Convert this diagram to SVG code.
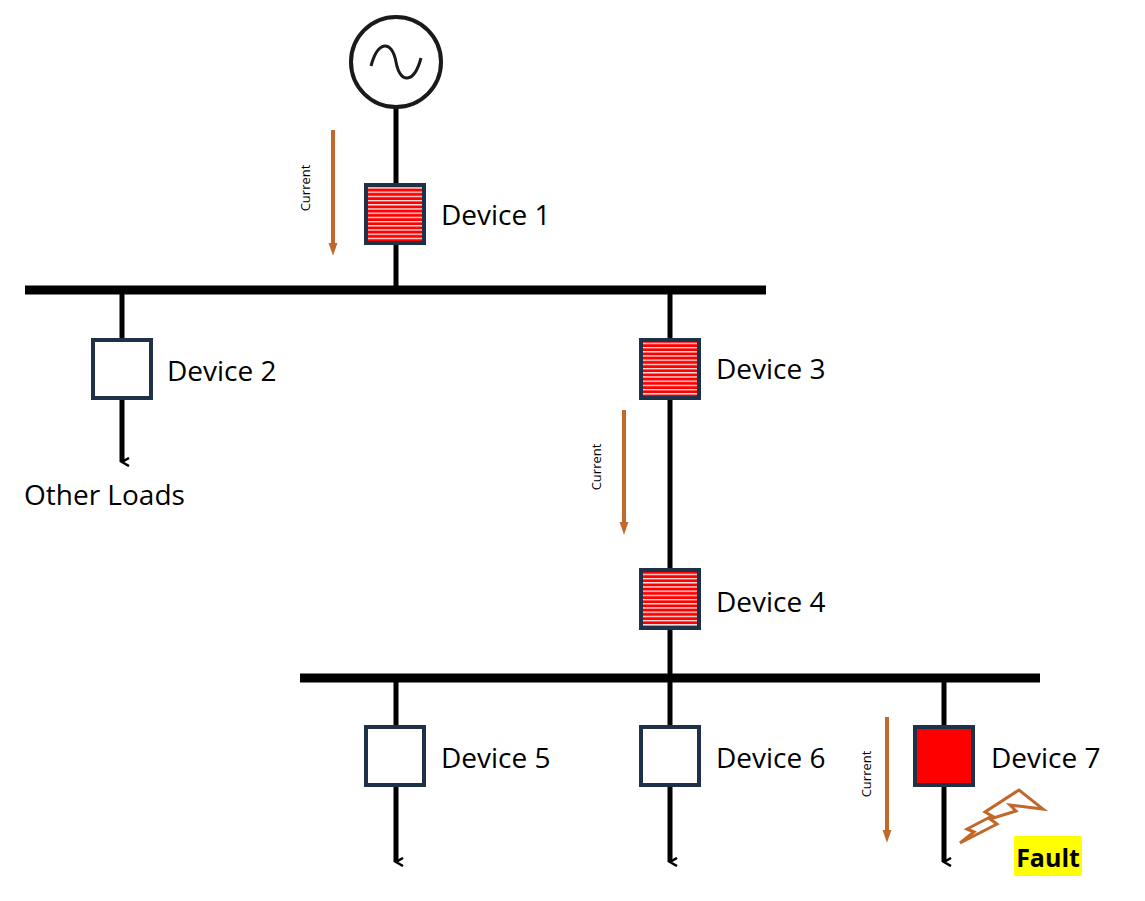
<svg xmlns="http://www.w3.org/2000/svg" width="1145" height="901" viewBox="0 0 1145 901">
<style>
.w{stroke:#000;stroke-width:5;fill:none}
.bus{stroke:#000;stroke-width:9}
.dev{stroke:#1f3049;stroke-width:4}
.lbl{font-family:"Open Sans","Liberation Sans",sans-serif;font-size:28px;fill:#000}
.cur{font-family:"Open Sans","Liberation Sans",sans-serif;font-size:13px;fill:#000}
.ca{stroke:#c0692a;stroke-width:4}
</style>
<defs>
<pattern id="h" width="8" height="4.2" patternUnits="userSpaceOnUse">
<rect width="8" height="4.2" fill="#ff0000"/><rect y="2.6" width="8" height="1.2" fill="#fff"/>
</pattern>
<marker id="ar" markerWidth="10" markerHeight="10" refX="5" refY="8" orient="auto" markerUnits="userSpaceOnUse" viewBox="0 0 10 10">
<path d="M1 1 L5 8 L9 1" fill="none" stroke="#000" stroke-width="2.5"/>
</marker>
<marker id="oa" markerWidth="14" markerHeight="22" refX="0" refY="7" orient="auto" markerUnits="userSpaceOnUse" viewBox="0 0 22 14">
<path d="M0 0 L20 7 L0 14Z" fill="#c0692a"/>
</marker>
</defs>
<g id="connectors">
<line class="w" x1="396" y1="108" x2="396" y2="290"/>
<line class="bus" x1="25" y1="290" x2="766" y2="290"/>
<line class="w" x1="122" y1="290" x2="122" y2="462" marker-end="url(#ar)"/>
<line class="w" x1="670" y1="290" x2="670" y2="678"/>
<line class="bus" x1="300" y1="678" x2="1040" y2="678"/>
<line class="w" x1="396" y1="678" x2="396" y2="862" marker-end="url(#ar)"/>
<line class="w" x1="670" y1="678" x2="670" y2="862" marker-end="url(#ar)"/>
<line class="w" x1="944" y1="678" x2="944" y2="862" marker-end="url(#ar)"/>
<line class="ca" x1="333" y1="130" x2="333" y2="243" marker-end="url(#oa)"/>
<line class="ca" x1="624" y1="410" x2="624" y2="522" marker-end="url(#oa)"/>
<line class="ca" x1="887" y1="717" x2="887" y2="830" marker-end="url(#oa)"/>
</g>
<g id="gen"><circle cx="396" cy="62" r="45" fill="#fff" stroke="#1a1a1a" stroke-width="4"/>
<path d="M371 66 C378 40 392 40 396 62 C400 84 414 84 421 58" fill="none" stroke="#1a1a1a" stroke-width="3"/></g>
<g id="d1"><rect class="dev" x="366" y="185" width="58" height="58" fill="url(#h)"/><text class="lbl" x="441" y="225">Device 1</text></g>
<g id="d2"><rect class="dev" x="93" y="340" width="58" height="58" fill="#fff"/><text class="lbl" x="167" y="381">Device 2</text></g>
<g id="d3"><rect class="dev" x="641" y="340" width="58" height="58" fill="url(#h)"/><text class="lbl" x="716" y="379">Device 3</text></g>
<g id="d4"><rect class="dev" x="641" y="570" width="58" height="58" fill="url(#h)"/><text class="lbl" x="716" y="612">Device 4</text></g>
<g id="d5"><rect class="dev" x="366" y="727" width="58" height="58" fill="#fff"/><text class="lbl" x="441" y="768">Device 5</text></g>
<g id="d6"><rect class="dev" x="641" y="727" width="58" height="58" fill="#fff"/><text class="lbl" x="716" y="768">Device 6</text></g>
<g id="d7"><rect class="dev" x="915" y="727" width="58" height="58" fill="#ff0000"/><text class="lbl" x="991" y="768">Device 7</text></g>
<text class="lbl" x="24" y="505">Other Loads</text>
<text class="cur" transform="translate(310,188) rotate(-90)" text-anchor="middle">Current</text>
<text class="cur" transform="translate(601,467) rotate(-90)" text-anchor="middle">Current</text>
<text class="cur" transform="translate(871,774) rotate(-90)" text-anchor="middle">Current</text>
<g id="fault">
<path d="M960 843 L997 824 L990 819 L1016 811 L1010 805 L1043 809 L1019 790 L985 812 L992 816 L967 829 L974 832 Z" fill="#fff" stroke="#c0692a" stroke-width="3" stroke-linejoin="miter"/>
<rect x="1014" y="836" width="68" height="40" fill="#ffff00"/>
<text x="1048" y="867" text-anchor="middle" font-family="'Open Sans','Liberation Sans',sans-serif" font-weight="bold" font-size="25">Fault</text>
</g>
</svg>
